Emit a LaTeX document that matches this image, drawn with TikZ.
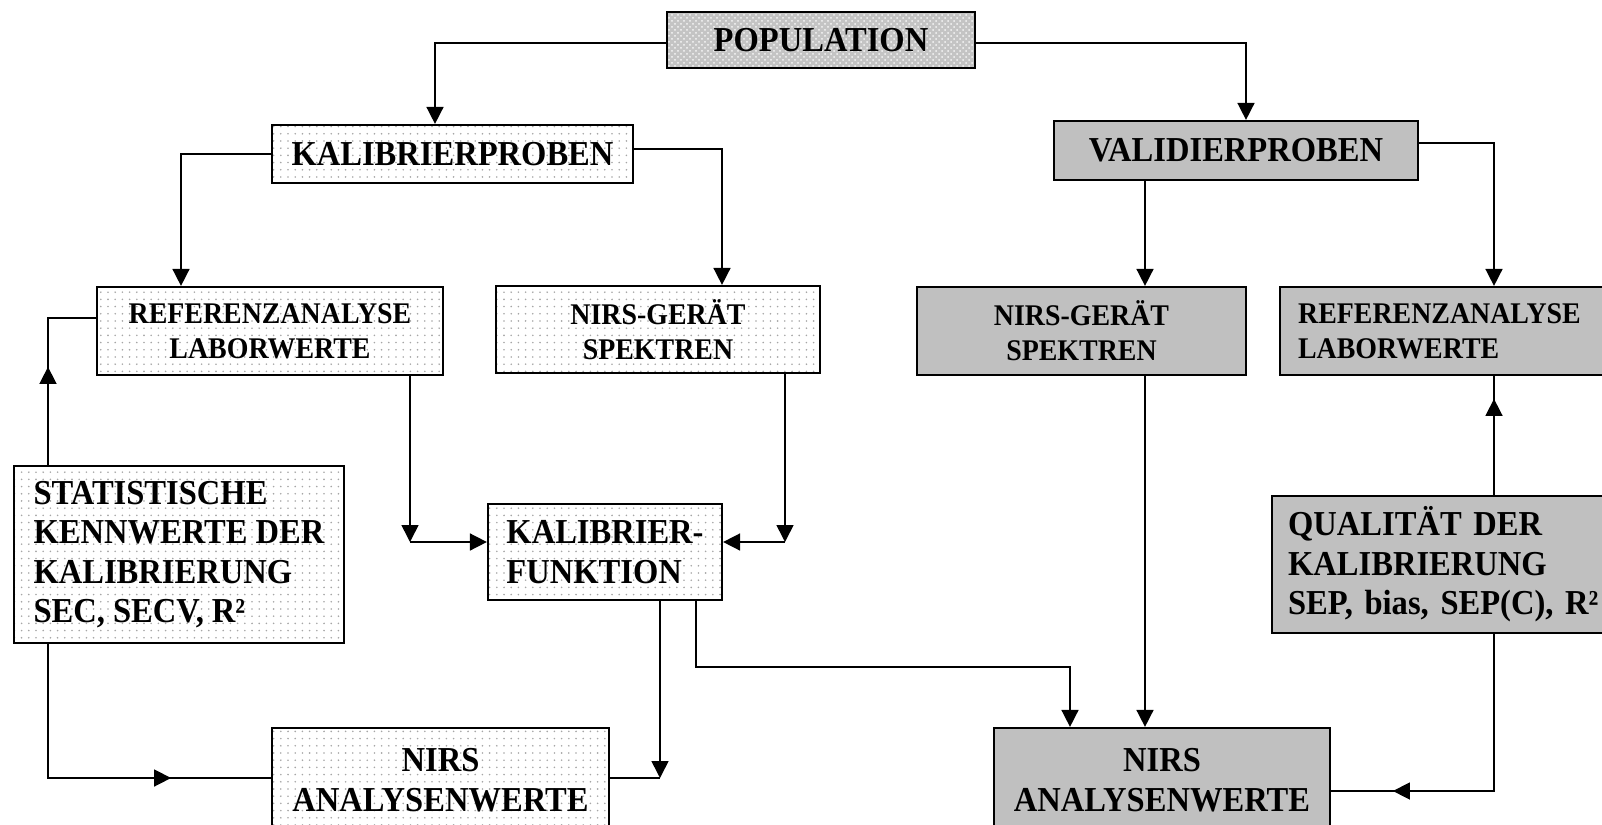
\documentclass[tikz,border=0pt]{standalone}
\usepackage{fontspec}
\setmainfont{Liberation Serif}
\newfontfamily\tallserif[FakeStretch=0.93]{Liberation Serif}
\usetikzlibrary{arrows.meta,patterns,calc,decorations.markings}
\definecolor{boxgray}{RGB}{192,192,192}
\definecolor{popgray}{RGB}{196,196,196}
\pgfdeclarepatternformonly{smalldots}{\pgfqpoint{-1pt}{-1pt}}{\pgfqpoint{1pt}{1pt}}{\pgfqpoint{3.6pt}{3.6pt}}{\pgfpathcircle{\pgfqpoint{0pt}{0pt}}{0.45pt}\pgfusepath{fill}}
\newcommand{\fntL}{\tallserif\fontsize{17.5pt}{19.75pt}\selectfont\bfseries}
\newcommand{\fntS}{\tallserif\fontsize{15pt}{17.5pt}\selectfont\bfseries}
\tikzset{
  box/.style={draw, line width=1.1pt, inner sep=0pt, font=\fntL, align=center},
  dotbox/.style={box, pattern=smalldots, pattern color=black!35},
  graybox/.style={box, fill=boxgray},
  popbox/.style={box, preaction={fill=popgray}, pattern=crosshatch dots, pattern color=white!85!popgray},
  smalltext/.style={font=\fntS},
  conn/.style={line width=0.8pt},
  arr/.style={conn, -{Triangle[length=8.5pt,width=8.5pt]}},
  midarrow/.style={conn, postaction=decorate, decoration={markings, mark=at position #1 with {\arrow{Triangle[length=8.5pt,width=8.5pt]}}}}
}
\begin{document}
\begin{tikzpicture}[x=0.5pt,y=-0.5pt]
\useasboundingbox (0,0) rectangle (1602,825);
% boxes
\node[popbox, minimum width=154pt, minimum height=28pt] (pop) at (821,40) {POPULATION};
\node[dotbox, minimum width=180.5pt, minimum height=29pt] (kp) at (452.5,154) {KALIBRIERPROBEN};
\node[graybox, minimum width=182pt, minimum height=29.5pt] (vp) at (1236,150.5) {VALIDIERPROBEN};
\node[dotbox, smalltext, minimum width=173pt, minimum height=44pt] (refL) at (270,331) {REFERENZANALYSE\\LABORWERTE};
\node[dotbox, smalltext, minimum width=162pt, minimum height=43.5pt] (nirsL) at (658,329.5) {NIRS-GERÄT\\SPEKTREN};
\node[graybox, smalltext, minimum width=164.5pt, minimum height=44pt] (nirsR) at (1081.5,331) {NIRS-GERÄT\\SPEKTREN};
\node[graybox, smalltext, anchor=west, text width=160pt, align=left, inner xsep=9pt, minimum height=44pt] (refR) at (1279,331) {REFERENZANALYSE\\LABORWERTE};
\node[dotbox, align=left, minimum width=165pt, minimum height=88.5pt] (stat) at (179,554.5) {STATISTISCHE\\KENNWERTE DER\\KALIBRIERUNG\\SEC, SECV, R²};
\node[dotbox, align=left, minimum width=117pt, minimum height=48pt] (kf) at (605,552) {KALIBRIER-\\FUNKTION};
\node[graybox, anchor=west, text width=180pt, align=left, inner xsep=8pt, minimum height=68.5pt] (qual) at (1271,564.5) {QUALITÄT DER\\KALIBRIERUNG\\SEP, bias, SEP(C), R²};
\node[dotbox, minimum width=168.5pt, minimum height=52pt] (nawL) at (440.5,780) {NIRS\\ANALYSENWERTE};
\node[graybox, minimum width=168pt, minimum height=52pt] (nawR) at (1162,780) {NIRS\\ANALYSENWERTE};
% helper coordinates
\coordinate (xA) at (435,0);
\coordinate (xB) at (1246,0);
\coordinate (xC) at (181,0);
\coordinate (xD) at (722,0);
\coordinate (xE) at (1145,0);
\coordinate (xF) at (1494,0);
\coordinate (xG) at (48,0);
\coordinate (xH) at (410,542);
\coordinate (xI) at (785,542);
\coordinate (xJ) at (660,778);
\coordinate (xK) at (696,667);
\coordinate (xL) at (1070,667);
\coordinate (yP) at (0,43);
\coordinate (yKPr) at (0,149);
\coordinate (yVPr) at (0,143);
\coordinate (yS) at (0,318);
\coordinate (yT) at (0,778);
\coordinate (yU) at (0,791);
% connectors
\draw[arr] (pop.west |- yP) -| (xA |- kp.north);
\draw[arr] (pop.east |- yP) -| (xB |- vp.north);
\draw[arr] (kp.west) -| (xC |- refL.north);
\draw[arr] (kp.east |- yKPr) -| (xD |- nirsL.north);
\draw[arr] (xE |- vp.south) -- (xE |- nirsR.north);
\draw[arr] (vp.east |- yVPr) -| (xF |- refR.north);
\draw[midarrow=49pt] (xG |- stat.north) |- (refL.west |- yS);
\draw[midarrow=128.5pt] (xG |- stat.south) |- (nawL.west |- yT);
\draw[arr] (xH |- refL.south) -- (xH);
\draw[arr] (xH) -- (kf.west |- xH);
\draw[arr] (xI |- nirsL.south) -- (xI);
\draw[arr] (xI) -- (kf.east |- xI);
\draw[arr] (xJ |- kf.south) -- (xJ);
\draw[conn] (nawL.east |- xJ) -- (xJ);
\draw[arr] (xK |- kf.south) -- (xK) -- (xL) -- (xL |- nawR.north);
\draw[arr] (xE |- nirsR.south) -- (xE |- nawR.north);
\draw[midarrow=48pt] (xF |- qual.north) -- (xF |- refR.south);
\draw[midarrow=129pt] (xF |- qual.south) |- (nawR.east |- yU);
\end{tikzpicture}
\end{document}
